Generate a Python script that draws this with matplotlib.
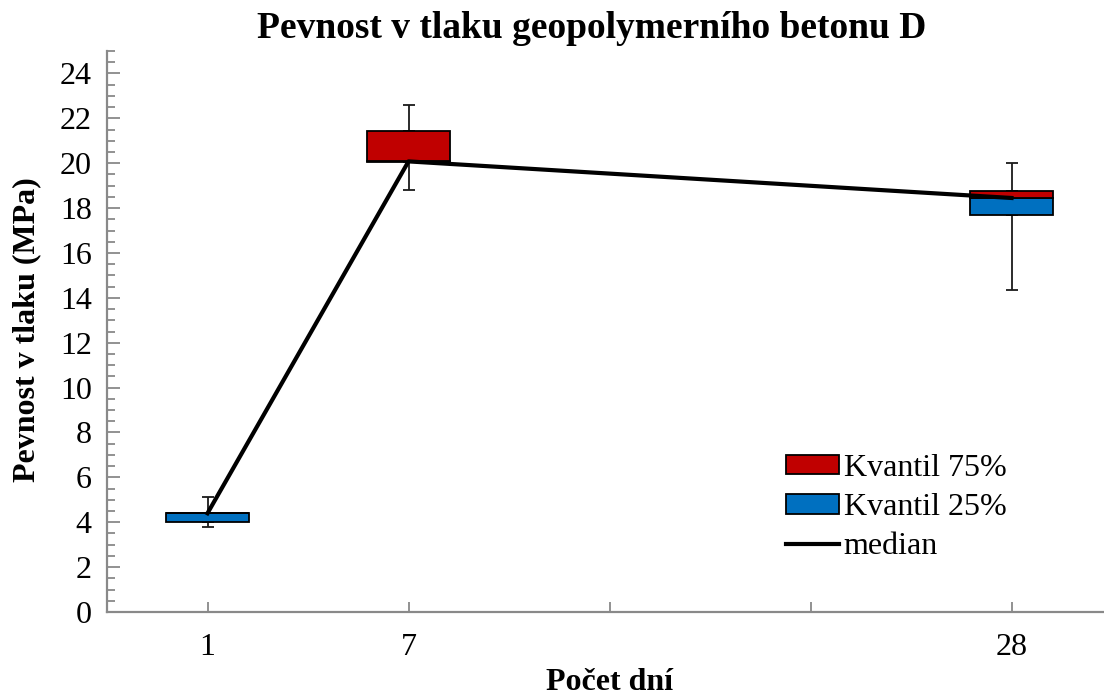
import matplotlib.pyplot as plt
from matplotlib.patches import Patch
from matplotlib.lines import Line2D

plt.rcParams['font.family'] = ['Liberation Serif', 'DejaVu Serif']

days = ['1', '7', '', '', '28']
day_pos = [0, 1, 4]
q1 = [3.99, 20.05, 17.68]
median = [4.40, 20.08, 18.45]
q3 = [4.43, 21.44, 18.76]
minimum = [3.79, 18.79, 14.37]
maximum = [5.13, 22.59, 20.00]

RED = '#C00000'
BLUE = '#0070C0'
AXIS = '#898989'


def plot_box(ax):
    blue_h = [m - a for m, a in zip(median, q1)]
    red_h = [b - m for b, m in zip(q3, median)]
    ax.bar(day_pos, blue_h, bottom=q1, width=0.41, color=BLUE,
           edgecolor='black', linewidth=1.3, zorder=2)
    ax.bar(day_pos, red_h, bottom=median, width=0.41, color=RED,
           edgecolor='black', linewidth=1.3, zorder=2)

    up = [[0] * 3, [mx - b for mx, b in zip(maximum, q3)]]
    down = [[a - mn for a, mn in zip(q1, minimum)], [0] * 3]
    ax.errorbar(day_pos, q3, yerr=up, fmt='none', ecolor='#1a1a1a',
                elinewidth=1.3, capsize=4.5, capthick=1.3, zorder=1)
    ax.errorbar(day_pos, q1, yerr=down, fmt='none', ecolor='#1a1a1a',
                elinewidth=1.3, capsize=4.5, capthick=1.3, zorder=1)

    ax.plot(day_pos, median, color='black', linewidth=3, zorder=3)


fig = plt.figure(figsize=(11.04, 6.97), dpi=100)
ax = fig.add_axes([107 / 1104, 85 / 697, 1005 / 1104, 561 / 697])
plot_box(ax)

ax.set_xlim(-0.5, 4.5)
ax.set_ylim(0, 25)
ax.set_xticks(range(len(days)))
ax.set_xticklabels(days, fontsize=23)
ax.set_yticks(range(0, 25, 2))
ax.set_yticks([v * 0.5 for v in range(51)], minor=True)
ax.tick_params(axis='y', labelsize=23, direction='in', length=9,
               width=1.3, color=AXIS, pad=11)
ax.tick_params(axis='y', which='minor', direction='in', length=6,
               width=1.3, color=AXIS)
ax.tick_params(axis='x', direction='in', length=7, width=1.3,
               color=AXIS, pad=15)

for s in ['top', 'right']:
    ax.spines[s].set_visible(False)
for s in ['left', 'bottom']:
    ax.spines[s].set_color(AXIS)
    ax.spines[s].set_linewidth(1.6)

fig.text(592 / 1104, 1 - 28 / 697, 'Pevnost v tlaku geopolymerního betonu D',
         ha='center', va='center', fontsize=27, fontweight='bold')
fig.text(27 / 1104, 1 - 330 / 697, 'Pevnost v tlaku (MPa)', rotation=90,
         ha='center', va='center', fontsize=23, fontweight='bold')
fig.text(610 / 1104, 1 - 683 / 697, 'Počet dní',
         ha='center', va='center', fontsize=23, fontweight='bold')

handles = [Patch(facecolor=RED, edgecolor='black', linewidth=1.3),
           Patch(facecolor=BLUE, edgecolor='black', linewidth=1.3),
           Line2D([0], [0], color='black', linewidth=3)]
ax.legend(handles, ['Kvantil 75%', 'Kvantil 25%', 'median'],
          loc='upper left', bbox_to_anchor=(786 / 1104, 1 - 454 / 697),
          bbox_transform=fig.transFigure, frameon=False, fontsize=23,
          handlelength=1.65, handleheight=0.55, handletextpad=0.15,
          labelspacing=0.32, borderaxespad=0, borderpad=0)

fig.savefig('out.png', dpi=100)
